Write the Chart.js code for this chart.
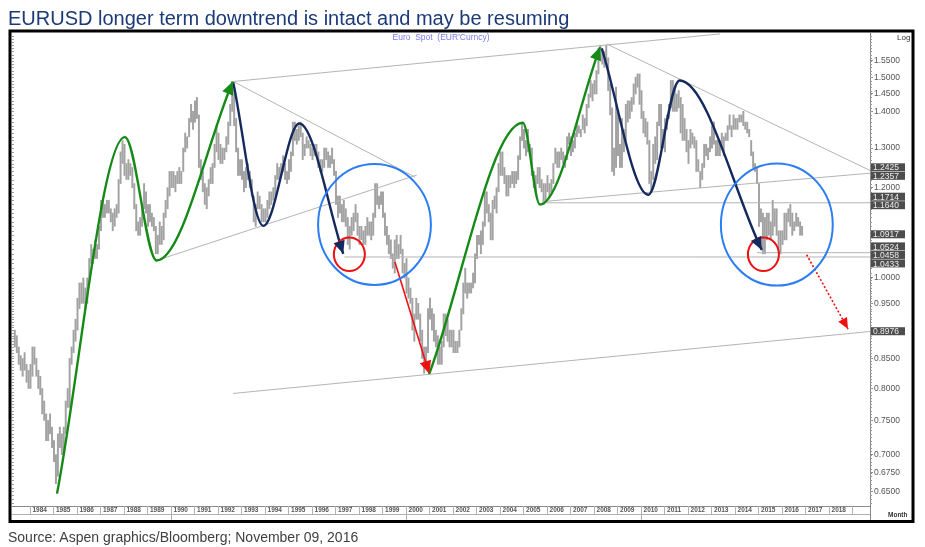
<!DOCTYPE html>
<html>
<head>
<meta charset="UTF-8">
<title>EURUSD longer term downtrend</title>
<script src="https://cdn.jsdelivr.net/npm/chart.js"></script>
<style>
  body { margin: 0; background: #fff; }
  #wrap { position: relative; width: 925px; height: 547px; overflow: hidden; }
  #wrap canvas { position: absolute; left: 0; top: 0; }
  #title { position: absolute; left: 8px; top: 8px; font: 20px/20px "Liberation Sans", Arial, sans-serif; color: #1c3a78; white-space: nowrap; }
  #source { position: absolute; left: 8px; top: 530px; font: 14px/14px "Liberation Sans", Arial, sans-serif; color: #404040; white-space: nowrap; }
</style>
</head>
<body>
<div id="wrap">
  <canvas id="chart" width="925" height="547"></canvas>
  <div id="title">EURUSD longer term downtrend is intact and may be resuming</div>
  <div id="source">Source: Aspen graphics/Bloomberg; November 09, 2016</div>
</div>
<script>
// monthly bars, first bar = May 1983
const firstYear = 1983, firstMonth = 5;
const barLow = [
  0.87,0.86,0.84,0.83,0.82,0.83,0.81,0.80,                       // 1983
  0.80,0.82,0.84,0.82,0.80,0.79,0.76,0.75,0.72,0.72,0.73,0.71,   // 1984
  0.69,0.66,0.67,0.71,0.70,0.70,0.73,0.77,0.77,0.84,0.86,0.88,   // 1985
  0.90,0.94,0.95,0.95,0.94,0.95,0.99,1.03,1.03,1.04,1.04,1.06,   // 1986
  1.10,1.13,1.13,1.14,1.14,1.12,1.10,1.11,1.13,1.14,1.21,1.26,   // 1987
  1.23,1.22,1.22,1.23,1.20,1.15,1.10,1.09,1.09,1.11,1.15,1.14,   // 1988
  1.11,1.12,1.11,1.10,1.05,1.05,1.07,1.07,1.08,1.13,1.15,1.18,   // 1989
  1.20,1.20,1.19,1.21,1.21,1.21,1.24,1.29,1.30,1.33,1.37,1.35,   // 1990
  1.37,1.38,1.25,1.22,1.19,1.16,1.15,1.18,1.21,1.21,1.25,1.29,   // 1991
  1.27,1.26,1.26,1.27,1.29,1.31,1.36,1.40,1.36,1.29,1.23,1.23,   // 1992
  1.22,1.19,1.20,1.22,1.20,1.18,1.12,1.11,1.15,1.15,1.12,1.12,   // 1993
  1.12,1.13,1.15,1.16,1.17,1.18,1.22,1.22,1.23,1.24,1.22,1.21,   // 1994
  1.22,1.24,1.28,1.32,1.31,1.32,1.33,1.27,1.28,1.30,1.30,1.28,   // 1995
  1.27,1.28,1.28,1.25,1.24,1.24,1.25,1.27,1.25,1.25,1.26,1.23,   // 1996
  1.16,1.13,1.14,1.12,1.12,1.11,1.07,1.06,1.09,1.10,1.12,1.09,   // 1997
  1.07,1.08,1.07,1.07,1.09,1.09,1.08,1.09,1.13,1.16,1.15,1.16,   // 1998
  1.13,1.09,1.07,1.05,1.04,1.02,1.01,1.04,1.04,1.05,1.01,1.00,   // 1999
  0.97,0.96,0.95,0.90,0.88,0.92,0.92,0.88,0.85,0.825,0.84,0.86,  // 2000
  0.92,0.90,0.88,0.87,0.84,0.84,0.84,0.87,0.89,0.88,0.87,0.87,   // 2001
  0.86,0.86,0.86,0.87,0.90,0.93,0.97,0.96,0.97,0.97,0.98,0.99,   // 2002
  1.04,1.07,1.05,1.07,1.11,1.14,1.12,1.08,1.08,1.15,1.14,1.19,   // 2003
  1.23,1.23,1.21,1.18,1.18,1.20,1.21,1.20,1.21,1.22,1.27,1.32,   // 2004
  1.30,1.28,1.29,1.28,1.23,1.20,1.19,1.21,1.20,1.19,1.16,1.17,   // 2005
  1.19,1.18,1.19,1.21,1.26,1.25,1.25,1.27,1.26,1.25,1.27,1.31,   // 2006
  1.28,1.29,1.30,1.33,1.34,1.33,1.35,1.34,1.36,1.41,1.44,1.43,   // 2007
  1.45,1.45,1.51,1.55,1.54,1.53,1.55,1.46,1.39,1.24,1.23,1.25,   // 2008
  1.28,1.25,1.25,1.29,1.32,1.37,1.38,1.40,1.42,1.45,1.47,1.42,   // 2009
  1.38,1.34,1.33,1.31,1.21,1.19,1.22,1.26,1.27,1.36,1.30,1.30,   // 2010
  1.29,1.35,1.38,1.41,1.40,1.40,1.40,1.41,1.34,1.32,1.32,1.29,   // 2011
  1.26,1.30,1.31,1.30,1.24,1.24,1.20,1.22,1.25,1.28,1.27,1.29,   // 2012
  1.30,1.31,1.28,1.28,1.28,1.30,1.28,1.32,1.32,1.35,1.33,1.35,   // 2013
  1.35,1.35,1.37,1.37,1.36,1.35,1.34,1.33,1.28,1.25,1.24,1.21,   // 2014
  1.11,1.12,1.05,1.05,1.08,1.09,1.08,1.09,1.11,1.09,1.06,1.05,   // 2015
  1.07,1.08,1.08,1.12,1.11,1.09,1.10,1.11,1.11,1.09,1.09         // 2016
];
const barHigh = [
  0.90,0.89,0.87,0.855,0.85,0.86,0.84,0.83,                      // 1983
  0.84,0.87,0.87,0.85,0.83,0.82,0.80,0.78,0.76,0.75,0.76,0.74,   // 1984
  0.72,0.70,0.73,0.74,0.73,0.74,0.78,0.80,0.85,0.87,0.90,0.92,   // 1985
  0.96,0.99,0.99,1.00,0.98,1.00,1.04,1.07,1.06,1.08,1.07,1.11,   // 1986
  1.17,1.17,1.16,1.17,1.17,1.15,1.14,1.15,1.16,1.22,1.29,1.32,   // 1987
  1.31,1.26,1.27,1.26,1.25,1.21,1.16,1.12,1.13,1.16,1.21,1.19,   // 1988
  1.16,1.16,1.14,1.13,1.11,1.09,1.12,1.11,1.14,1.17,1.20,1.24,   // 1989
  1.24,1.24,1.23,1.24,1.25,1.24,1.30,1.34,1.33,1.38,1.42,1.40,   // 1990
  1.43,1.44,1.39,1.27,1.24,1.21,1.20,1.22,1.25,1.26,1.31,1.36,   // 1991
  1.34,1.31,1.30,1.30,1.33,1.37,1.42,1.48,1.47,1.38,1.30,1.27,   // 1992
  1.27,1.24,1.25,1.26,1.24,1.22,1.18,1.16,1.19,1.18,1.16,1.15,   // 1993
  1.15,1.17,1.19,1.19,1.20,1.23,1.26,1.25,1.26,1.28,1.26,1.24,   // 1994
  1.27,1.29,1.37,1.37,1.35,1.36,1.37,1.34,1.31,1.33,1.32,1.31,   // 1995
  1.30,1.31,1.31,1.29,1.27,1.27,1.30,1.30,1.29,1.28,1.30,1.27,   // 1996
  1.24,1.18,1.18,1.16,1.17,1.15,1.13,1.11,1.13,1.14,1.16,1.14,   // 1997
  1.11,1.11,1.10,1.11,1.13,1.12,1.12,1.14,1.21,1.21,1.18,1.19,   // 1998
  1.19,1.14,1.11,1.09,1.08,1.05,1.08,1.09,1.07,1.09,1.06,1.03,   // 1999
  1.04,1.00,0.98,0.96,0.93,0.96,0.95,0.93,0.90,0.87,0.87,0.94,   // 2000
  0.96,0.94,0.93,0.90,0.89,0.87,0.88,0.93,0.93,0.92,0.90,0.90,   // 2001
  0.90,0.88,0.88,0.90,0.94,0.99,1.02,0.99,0.99,0.99,1.01,1.05,   // 2002
  1.09,1.09,1.10,1.12,1.19,1.19,1.16,1.14,1.17,1.18,1.20,1.26,   // 2003
  1.29,1.29,1.25,1.23,1.23,1.23,1.24,1.24,1.24,1.28,1.33,1.37,   // 2004
  1.35,1.32,1.35,1.31,1.30,1.24,1.23,1.25,1.25,1.22,1.21,1.21,   // 2005
  1.23,1.21,1.22,1.26,1.30,1.29,1.29,1.30,1.29,1.28,1.33,1.34,   // 2006
  1.33,1.32,1.34,1.37,1.36,1.35,1.39,1.38,1.42,1.45,1.49,1.48,   // 2007
  1.49,1.52,1.59,1.60,1.58,1.58,1.60,1.56,1.48,1.41,1.30,1.47,   // 2008
  1.40,1.31,1.38,1.35,1.42,1.43,1.43,1.44,1.48,1.50,1.51,1.51,   // 2009
  1.46,1.40,1.38,1.37,1.32,1.24,1.31,1.33,1.37,1.42,1.42,1.35,   // 2010
  1.38,1.39,1.42,1.49,1.49,1.47,1.45,1.46,1.44,1.42,1.38,1.35,   // 2011
  1.32,1.35,1.34,1.33,1.32,1.27,1.24,1.26,1.31,1.31,1.30,1.33,   // 2012
  1.36,1.37,1.32,1.32,1.32,1.34,1.33,1.34,1.36,1.39,1.36,1.39,   // 2013
  1.38,1.38,1.39,1.39,1.40,1.37,1.37,1.35,1.32,1.29,1.26,1.25,   // 2014
  1.21,1.15,1.14,1.13,1.14,1.14,1.12,1.17,1.15,1.15,1.10,1.10,   // 2015
  1.10,1.14,1.14,1.15,1.16,1.14,1.12,1.14,1.13,1.12,1.11         // 2016
];

const yearLabels = [1984,1985,1986,1987,1988,1989,1990,1991,1992,1993,1994,1995,1996,1997,1998,1999,
  2000,2001,2002,2003,2004,2005,2006,2007,2008,2009,2010,2011,2012,2013,2014,2015,2016,2017,2018];
const decadeMarks = [1990, 2000, 2010];
const yTicks = [0.65,0.675,0.70,0.75,0.80,0.85,0.95,1.00,1.20,1.30,1.40,1.45,1.50,1.55];
const priceMarkers = [1.2425,1.2357,1.1714,1.1640,1.0917,1.0524,1.0458,1.0433,0.8976];

const xMin = 1983.255, xMax = 2019.765;
const yMin = 0.631, yMax = 1.64;

// drawn annotations, points as [year, price]
const green1 = [[1985.17,0.647],[1988.06,1.329],[1989.41,1.036],[1992.65,1.487]];
const navy1  = [[1992.67,1.484],[1993.95,1.111],[1995.48,1.366],[1997.35,1.050]];
const green2 = [[2001.01,0.824],[2004.99,1.368],[2005.72,1.160],[2008.28,1.594]];
const navy2  = [[2008.35,1.590],[2010.33,1.183],[2011.66,1.490],[2015.16,1.058]];
const redArrow  = [[1999.55,1.033],[2001.01,0.824]];
const redDotted = [[2017.07,1.048],[2018.83,0.902]];
const trendLines = [
  [[1992.67,1.487],[2013.38,1.637]],
  [[1992.67,1.487],[2000.40,1.226]],
  [[1989.41,1.036],[2000.48,1.231]],
  [[1992.66,0.792],[xMax,0.8976]],
  [[2008.56,1.604],[xMax,1.2425]],
  [[2005.86,1.167],[xMax,1.2357]],
  [[2005.80,1.1640],[xMax,1.1640]],
  [[1997.40,1.0433],[xMax,1.0433]],
  [[2014.95,1.0524],[xMax,1.0524]]
];
const circles = [
  { x: 1998.68, y: 1.114, rx: 2.40, ry: 2.57, color: '#2a7df2' },
  { x: 2015.80, y: 1.114, rx: 2.38, ry: 2.60, color: '#2a7df2' },
  { x: 1997.61, y: 1.049, rx: 0.66, ry: 0.71, color: '#ee1111' },
  { x: 2015.23, y: 1.049, rx: 0.66, ry: 0.71, color: '#ee1111' }
];

const font = '"Liberation Sans", Arial, sans-serif';
const pts = arr => arr.map(p => ({ x: p[0], y: p[1] }));

const bars = barLow.map((lo, i) => ({
  x: firstYear + (firstMonth - 1 + i + 0.5) / 12,
  y: [lo, barHigh[i]]
}));

const datasets = [{
  type: 'bar', data: bars, backgroundColor: '#a2a2a2', barThickness: 1.3, order: 10
}];
trendLines.forEach(t => datasets.push({
  type: 'line', data: pts(t), borderColor: '#b4b4b4', borderWidth: 1,
  pointRadius: 0, fill: false, tension: 0, order: 5
}));
[[green1, '#168a16'], [navy1, '#14295e'], [green2, '#168a16'], [navy2, '#14295e']].forEach(([c, col]) =>
  datasets.push({
    type: 'line', data: pts(c), borderColor: col, borderWidth: 2.4, pointRadius: 0, fill: false,
    cubicInterpolationMode: 'monotone', order: 1, arrowHead: 13
  }));
datasets.push({ type: 'line', data: pts(redArrow), borderColor: '#ee1111', borderWidth: 1.6,
  pointRadius: 0, fill: false, tension: 0, order: 1, arrowHead: 13 });
datasets.push({ type: 'line', data: pts(redDotted), borderColor: '#ee1111', borderWidth: 1.6, borderDash: [2, 2],
  pointRadius: 0, fill: false, tension: 0, order: 1, arrowHead: 11 });

const overlay = {
  id: 'overlay',
  afterDatasetsDraw(chart) {
    const { ctx, scales: { x, y } } = chart;
    ctx.save();
    circles.forEach(c => {
      const cx = x.getPixelForValue(c.x), cy = y.getPixelForValue(c.y);
      const rx = x.getPixelForValue(c.x + c.rx) - cx;
      const ry = x.getPixelForValue(c.x + c.ry) - cx;
      ctx.beginPath();
      ctx.ellipse(cx, cy, rx, ry, 0, 0, Math.PI * 2);
      ctx.strokeStyle = c.color;
      ctx.lineWidth = 2;
      ctx.stroke();
    });
    chart.data.datasets.forEach((ds, i) => {
      if (!ds.arrowHead) return;
      const p = chart.getDatasetMeta(i).data;
      const end = p[p.length - 1];
      let fx = end.cp1x, fy = end.cp1y;
      if (fx === undefined || Math.hypot(end.x - fx, end.y - fy) < 1) {
        fx = p[p.length - 2].x; fy = p[p.length - 2].y;
      }
      const a = Math.atan2(end.y - fy, end.x - fx);
      const L = ds.arrowHead, W = L * 0.45;
      const bx = end.x - L * Math.cos(a), by = end.y - L * Math.sin(a);
      ctx.beginPath();
      ctx.moveTo(end.x, end.y);
      ctx.lineTo(bx + W * Math.sin(a), by - W * Math.cos(a));
      ctx.lineTo(bx - W * Math.sin(a), by + W * Math.cos(a));
      ctx.closePath();
      ctx.fillStyle = ds.borderColor;
      ctx.fill();
    });
    ctx.restore();
  },
  afterDraw(chart) {
    const { ctx, chartArea: ca, scales: { x, y } } = chart;
    ctx.save();

    // minor ticks on the value axis and the left edge
    ctx.strokeStyle = '#999';
    ctx.lineWidth = 1;
    ctx.beginPath();
    for (let v = 0.635; v < yMax; v = +(v + (v < 1 ? 0.005 : 0.01)).toFixed(3)) {
      const py = Math.round(y.getPixelForValue(v)) + 0.5;
      ctx.moveTo(ca.right, py); ctx.lineTo(ca.right + 2, py);
      ctx.moveTo(ca.left, py); ctx.lineTo(ca.left + 2, py);
    }
    ctx.stroke();

    // price boxes on the axis
    const h = 8.5;
    const items = priceMarkers.map(v => ({ v, py: y.getPixelForValue(v) })).sort((a, b) => a.py - b.py);
    const groups = [];
    items.forEach(it => {
      const g = groups[groups.length - 1];
      if (g && it.py - g[g.length - 1].py < h) g.push(it); else groups.push([it]);
    });
    ctx.font = '8.5px ' + font;
    ctx.textBaseline = 'middle';
    ctx.textAlign = 'left';
    groups.forEach(g => {
      const mean = g.reduce((s, it) => s + it.py, 0) / g.length;
      g.forEach((it, k) => {
        const cy = mean + (k - (g.length - 1) / 2) * h;
        ctx.fillStyle = '#4d4d4d';
        ctx.fillRect(ca.right + 1, cy - h / 2, 34, h - 0.5);
        ctx.fillStyle = '#ececec';
        ctx.fillText(it.v.toFixed(4), ca.right + 3, cy + 0.5);
      });
    });

    // time band
    const top = ca.bottom, mid = ca.bottom + 8, bot = 521;
    ctx.strokeStyle = '#8a8a8a';
    ctx.beginPath();
    ctx.moveTo(ca.left, top + 0.5); ctx.lineTo(ca.right, top + 0.5);
    ctx.stroke();
    ctx.strokeStyle = '#b0b0b0';
    ctx.beginPath();
    ctx.moveTo(ca.left, mid + 0.5); ctx.lineTo(ca.right, mid + 0.5);
    yearLabels.concat([yearLabels[yearLabels.length - 1] + 1]).forEach(yr => {
      const px = Math.round(x.getPixelForValue(yr)) + 0.5;
      ctx.moveTo(px, top); ctx.lineTo(px, mid);
    });
    decadeMarks.forEach(yr => {
      const px = Math.round(x.getPixelForValue(yr)) + 0.5;
      ctx.moveTo(px, mid); ctx.lineTo(px, bot);
    });
    ctx.stroke();
    ctx.strokeStyle = '#888';
    ctx.beginPath();
    ctx.moveTo(ca.right + 0.5, ca.bottom); ctx.lineTo(ca.right + 0.5, bot);
    ctx.stroke();
    ctx.fillStyle = '#555';
    ctx.font = 'bold 6.5px ' + font;
    ctx.textBaseline = 'middle';
    yearLabels.forEach(yr => {
      ctx.fillText(String(yr), x.getPixelForValue(yr) + 3, top + 4.5);
    });

    // axis captions
    ctx.fillStyle = '#333';
    ctx.font = '8px ' + font;
    ctx.fillText('Log', 897, 38);
    ctx.font = 'bold 6.5px ' + font;
    ctx.fillText('Month', 888, 515);

    ctx.fillStyle = '#7b7bf0';
    ctx.font = '8.5px ' + font;
    ctx.textAlign = 'center';
    ctx.fillText("Euro  Spot  (EUR'Curncy)", (ca.left + ca.right) / 2, ca.top + 5);

    // frame
    ctx.strokeStyle = '#000';
    ctx.lineWidth = 3;
    ctx.strokeRect(10, 31, 903, 490.5);
    ctx.restore();
  }
};

new Chart(document.getElementById('chart'), {
  type: 'bar',
  data: { datasets },
  options: {
    responsive: false,
    animation: false,
    layout: { padding: { left: 12, top: 33, right: 11, bottom: 41 } },
    plugins: { legend: { display: false }, tooltip: { enabled: false }, title: { display: false } },
    scales: {
      x: { type: 'linear', min: xMin, max: xMax, display: false, offset: false, bounds: 'data' },
      y: {
        type: 'logarithmic', position: 'right', min: yMin, max: yMax, bounds: 'data',
        afterBuildTicks: s => { s.ticks = yTicks.map(v => ({ value: v })); s.min = yMin; s.max = yMax; },
        afterFit: s => { s.width = 44; },
        ticks: { autoSkip: false, padding: 1, color: '#555', font: { size: 8.5, family: font },
                 callback: v => Number(v).toFixed(4) },
        grid: { drawOnChartArea: false, tickLength: 3, color: '#888' },
        border: { color: '#888' }
      }
    }
  },
  plugins: [overlay]
});
</script>
</body>
</html>
